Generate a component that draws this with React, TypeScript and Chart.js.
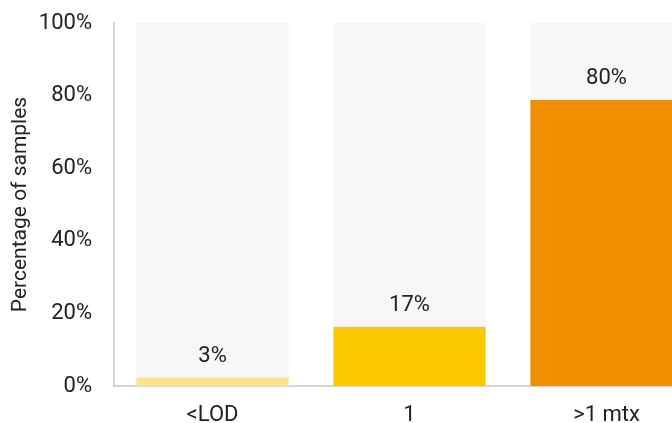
import React, { useEffect, useRef } from "react";
import { Chart, registerables } from "chart.js";

Chart.register(...registerables);

const categories = ["<LOD", "1", ">1 mtx"];
const values = [2.3, 16.3, 78.8];
const valueLabels = ["3%", "17%", "80%"];
const backgroundValues = [100, 100, 100];
const barColors = ["#FFE08C", "#FCC800", "#F09000"];
const backgroundColor = "#F7F7F7";
const axisTitle = "Percentage of samples";

const FONT = "Roboto, 'DejaVu Sans', sans-serif";
const TEXT = "#222222";

const labelPlugin = {
  id: "valueLabels",
  afterDatasetsDraw(chart: any) {
    const meta = chart.getDatasetMeta(0);
    const ctx = chart.ctx;
    ctx.save();
    ctx.font = `22px ${FONT}`;
    ctx.fillStyle = TEXT;
    ctx.textAlign = "center";
    ctx.textBaseline = "middle";
    meta.data.forEach((bar: any, i: number) => {
      ctx.fillText(valueLabels[i], bar.x, bar.y - 21);
    });
    ctx.restore();
  },
};

export default function App() {
  const ref = useRef<HTMLCanvasElement>(null);

  useEffect(() => {
    if (!ref.current) return;
    const chart = new Chart(ref.current, {
      type: "bar",
      data: {
        labels: categories,
        datasets: [
          {
            data: values,
            backgroundColor: barColors,
            grouped: false,
            order: 1,
            barPercentage: 0.773,
            categoryPercentage: 1,
          } as any,
          {
            data: backgroundValues,
            backgroundColor: backgroundColor,
            grouped: false,
            order: 2,
            barPercentage: 0.773,
            categoryPercentage: 1,
          } as any,
        ],
      },
      options: {
        responsive: false,
        animation: false,
        layout: { padding: { top: 23, left: 0, right: 0, bottom: 0 } },
        plugins: {
          legend: { display: false },
          tooltip: { enabled: false },
        },
        scales: {
          x: {
            z: 1,
            grid: { display: false, drawTicks: false },
            border: { display: true, color: "rgba(200,200,200,0.75)", width: 2 },
            ticks: {
              color: TEXT,
              font: { family: FONT, size: 22 },
              padding: 16,
            },
            afterFit(s: any) {
              s.height = 44;
              s.paddingLeft = 0;
              s.paddingRight = 0;
            },
          },
          y: {
            z: 1,
            min: 0,
            max: 100,
            grid: { display: false, drawTicks: false },
            border: { display: true, color: "rgba(200,200,200,0.75)", width: 2 },
            ticks: {
              stepSize: 20,
              color: TEXT,
              font: { family: FONT, size: 22 },
              padding: 22,
              callback: (v: any) => `${v}%`,
            },
            title: {
              display: true,
              text: axisTitle,
              color: TEXT,
              font: { family: FONT, size: 21 },
              padding: { top: 8, bottom: 0 },
            },
            afterFit(s: any) {
              s.width = 114;
              s.paddingTop = 0;
              s.paddingBottom = 0;
            },
          },
        },
      } as any,
      plugins: [labelPlugin],
    });
    return () => chart.destroy();
  }, []);

  return (
    <div
      style={{
        position: "fixed",
        left: 0,
        top: 0,
        width: 672,
        height: 423,
        overflow: "hidden",
        background: "#ffffff",
      }}
    >
      <canvas ref={ref} width={705} height={430} style={{ width: 705, height: 430, display: "block" }} />
    </div>
  );
}
